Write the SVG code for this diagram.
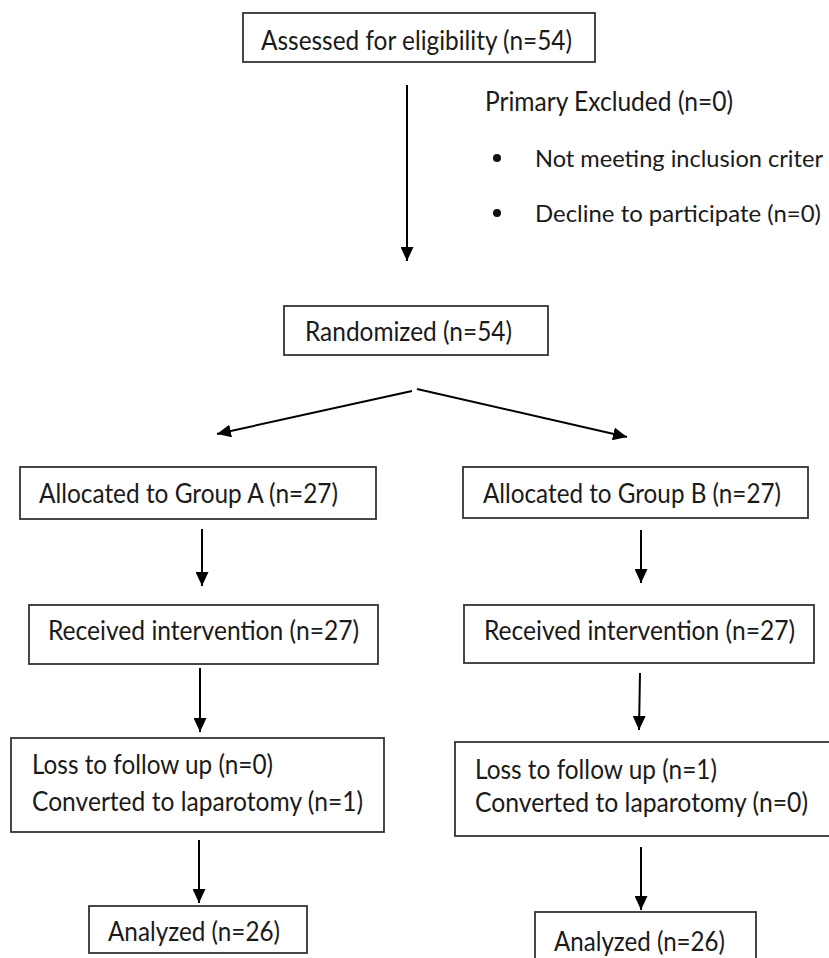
<svg xmlns="http://www.w3.org/2000/svg" width="829" height="958" viewBox="0 0 829 958">
<style>
.box{fill:#fff;stroke:#333;stroke-width:1.8}
.t{font-family:Lato,"Open Sans","Liberation Sans",sans-serif;font-size:26px;fill:#1a1a1a}
.s{font-size:24px}
.c{stroke:#000;stroke-width:2;fill:none;marker-end:url(#ah)}
</style>
<defs>
<marker id="ah" viewBox="0 0 14 13" refX="14" refY="6.5" markerWidth="14" markerHeight="13" markerUnits="userSpaceOnUse" orient="auto">
<path d="M0,0 L14,6.5 L0,13 z" fill="#000"/>
</marker>
</defs>
<rect width="829" height="958" fill="#fff"/>
<g id="connectors">
<line class="c" x1="407" y1="85" x2="407" y2="261"/>
<line class="c" x1="412" y1="391" x2="217" y2="434"/>
<line class="c" x1="417" y1="389" x2="627" y2="437"/>
<line class="c" x1="202" y1="529" x2="202" y2="586"/>
<line class="c" x1="641" y1="530" x2="641" y2="583"/>
<line class="c" x1="200" y1="668" x2="200" y2="732"/>
<line class="c" x1="640" y1="673" x2="639" y2="730"/>
<line class="c" x1="199" y1="840" x2="199" y2="903"/>
<line class="c" x1="641" y1="847" x2="641" y2="910"/>
</g>
<g id="assessed">
<rect class="box" x="243" y="13" width="352" height="49"/>
<text class="t" x="261" y="50" textLength="311" lengthAdjust="spacingAndGlyphs">Assessed for eligibility (n=54)</text>
</g>
<g id="excluded">
<text class="t" x="485" y="111" textLength="248" lengthAdjust="spacingAndGlyphs">Primary Excluded (n=0)</text>
<circle cx="497" cy="158" r="4" fill="#111"/>
<text class="t s" x="535" y="167" textLength="288" lengthAdjust="spacingAndGlyphs">Not meeting inclusion criter</text>
<circle cx="497" cy="213" r="4" fill="#111"/>
<text class="t s" x="535" y="222" textLength="286" lengthAdjust="spacingAndGlyphs">Decline to participate (n=0)</text>
</g>
<g id="randomized">
<rect class="box" x="284" y="306" width="264" height="49"/>
<text class="t" x="305" y="341" textLength="207" lengthAdjust="spacingAndGlyphs">Randomized (n=54)</text>
</g>
<g id="allocA">
<rect class="box" x="20" y="467" width="356" height="52"/>
<text class="t" x="39" y="503" textLength="299" lengthAdjust="spacingAndGlyphs">Allocated to Group A (n=27)</text>
</g>
<g id="allocB">
<rect class="box" x="463" y="467" width="345" height="51"/>
<text class="t" x="483" y="503" textLength="298" lengthAdjust="spacingAndGlyphs">Allocated to Group B (n=27)</text>
</g>
<g id="recvA">
<rect class="box" x="29" y="605" width="349" height="59"/>
<text class="t" x="48" y="640" textLength="311" lengthAdjust="spacingAndGlyphs">Received intervention (n=27)</text>
</g>
<g id="recvB">
<rect class="box" x="464" y="605" width="350" height="58"/>
<text class="t" x="484" y="640" textLength="311" lengthAdjust="spacingAndGlyphs">Received intervention (n=27)</text>
</g>
<g id="lossA">
<rect class="box" x="11" y="738" width="373" height="94"/>
<text class="t" x="32" y="774" textLength="241" lengthAdjust="spacingAndGlyphs">Loss to follow up (n=0)</text>
<text class="t" x="32" y="811" textLength="331" lengthAdjust="spacingAndGlyphs">Converted to laparotomy (n=1)</text>
</g>
<g id="lossB">
<rect class="box" x="455" y="742" width="380" height="94"/>
<text class="t" x="475" y="779" textLength="242" lengthAdjust="spacingAndGlyphs">Loss to follow up (n=1)</text>
<text class="t" x="475" y="812" textLength="333" lengthAdjust="spacingAndGlyphs">Converted to laparotomy (n=0)</text>
</g>
<g id="analyzedA">
<rect class="box" x="89" y="906" width="218" height="47"/>
<text class="t" x="108" y="941" textLength="172" lengthAdjust="spacingAndGlyphs">Analyzed (n=26)</text>
</g>
<g id="analyzedB">
<rect class="box" x="535" y="912" width="221" height="52"/>
<text class="t" x="554" y="951" textLength="171" lengthAdjust="spacingAndGlyphs">Analyzed (n=26)</text>
</g>
</svg>
